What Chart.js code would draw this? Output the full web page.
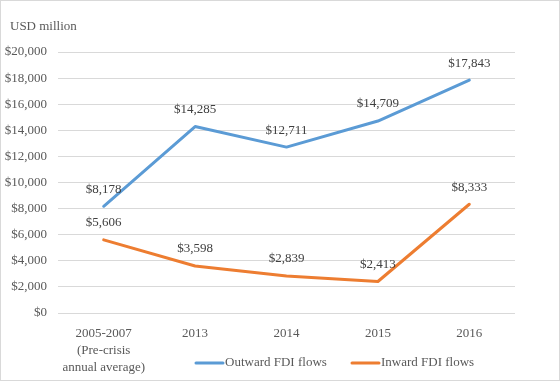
<!DOCTYPE html>
<html>
<head>
<meta charset="utf-8">
<script src="https://cdn.jsdelivr.net/npm/chart.js@4/dist/chart.umd.min.js"></script>
<style>
  html, body { margin: 0; padding: 0; background: #fff; }
  #wrap { width: 560px; height: 381px; position: relative; }
  canvas { display: block; }
</style>
</head>
<body>
<div id="wrap"><canvas id="c" width="560" height="381"></canvas></div>
<script>
const categories = [['2005-2007', '(Pre-crisis', 'annual average)'], '2013', '2014', '2015', '2016'];
const outwardLabel = 'Outward FDI flows';
const inwardLabel = 'Inward FDI flows';
const outwardValues = [8178, 14285, 12711, 14709, 17843];
const inwardValues = [5606, 3598, 2839, 2413, 8333];
const yMin = 0, yMax = 20000, yStep = 2000;
const yTitle = 'USD million';

const FONT = '"Liberation Serif", "Times New Roman", serif';
const BLUE = '#5B9BD5';
const ORANGE = '#ED7D31';

const fmt = v => '$' + v.toLocaleString('en-US');

const borderPlugin = {
  id: 'outerBorder',
  beforeDraw(chart) {
    const ctx = chart.ctx;
    ctx.save();
    ctx.fillStyle = '#fff';
    ctx.fillRect(0, 0, chart.width, chart.height);
    ctx.strokeStyle = '#d9d9d9';
    ctx.lineWidth = 1;
    ctx.strokeRect(0.5, 0.5, chart.width - 1, chart.height - 1);
    ctx.restore();
  }
};

const unitTitlePlugin = {
  id: 'unitTitle',
  afterDraw(chart) {
    const ctx = chart.ctx;
    ctx.save();
    ctx.font = '13px ' + FONT;
    ctx.fillStyle = '#595959';
    ctx.textAlign = 'left';
    ctx.textBaseline = 'middle';
    ctx.fillText(yTitle, 10, 27);
    ctx.restore();
  }
};

const dataLabelPlugin = {
  id: 'dataLabels',
  afterDatasetsDraw(chart) {
    const ctx = chart.ctx;
    ctx.save();
    ctx.font = '13px ' + FONT;
    ctx.fillStyle = '#404040';
    ctx.textAlign = 'center';
    ctx.textBaseline = 'middle';
    chart.data.datasets.forEach((ds, i) => {
      const meta = chart.getDatasetMeta(i);
      meta.data.forEach((pt, j) => {
        ctx.fillText(fmt(ds.data[j]), pt.x, pt.y - 17);
      });
    });
    ctx.restore();
  }
};

const legendPlugin = {
  id: 'customLegend',
  afterDraw(chart) {
    const ctx = chart.ctx;
    const starts = [196, 352];
    const y = 363;
    ctx.save();
    ctx.font = '13px ' + FONT;
    ctx.textBaseline = 'middle';
    ctx.textAlign = 'left';
    chart.data.datasets.forEach((ds, i) => {
      const x = starts[i];
      ctx.strokeStyle = ds.borderColor;
      ctx.lineWidth = 3;
      ctx.lineCap = 'round';
      ctx.beginPath();
      ctx.moveTo(x, y);
      ctx.lineTo(x + 27, y);
      ctx.stroke();
      ctx.fillStyle = '#595959';
      ctx.fillText(ds.label, x + 29, y);
    });
    ctx.restore();
  }
};

new Chart(document.getElementById('c'), {
  type: 'line',
  data: {
    labels: categories,
    datasets: [
      { label: outwardLabel, data: outwardValues, borderColor: BLUE, backgroundColor: BLUE,
        borderWidth: 3, pointRadius: 0, tension: 0, borderCapStyle: 'round', borderJoinStyle: 'round' },
      { label: inwardLabel, data: inwardValues, borderColor: ORANGE, backgroundColor: ORANGE,
        borderWidth: 3, pointRadius: 0, tension: 0, borderCapStyle: 'round', borderJoinStyle: 'round' }
    ]
  },
  options: {
    responsive: false,
    animation: false,
    layout: { padding: { left: 0, right: 45, top: 52, bottom: 0 } },
    plugins: {
      legend: { display: false },
      tooltip: { enabled: false },
      title: { display: false }
    },
    scales: {
      x: {
        offset: true,
        grid: { display: false, drawTicks: false },
        border: { display: false },
        ticks: {
          color: '#595959',
          font: { family: FONT, size: 13, lineHeight: 1.3 },
          padding: 12,
          maxRotation: 0,
          autoSkip: false
        },
        afterFit(scale) { scale.height = 68; }
      },
      y: {
        min: yMin, max: yMax,
        grid: { color: '#d9d9d9', drawTicks: false, lineWidth: 1 },
        border: { display: false },
        ticks: {
          stepSize: yStep,
          color: '#595959',
          font: { family: FONT, size: 13 },
          padding: 11,
          callback: v => fmt(v)
        },
        afterFit(scale) { scale.width = 58; }
      }
    }
  },
  plugins: [borderPlugin, unitTitlePlugin, dataLabelPlugin, legendPlugin]
});
</script>
</body>
</html>
